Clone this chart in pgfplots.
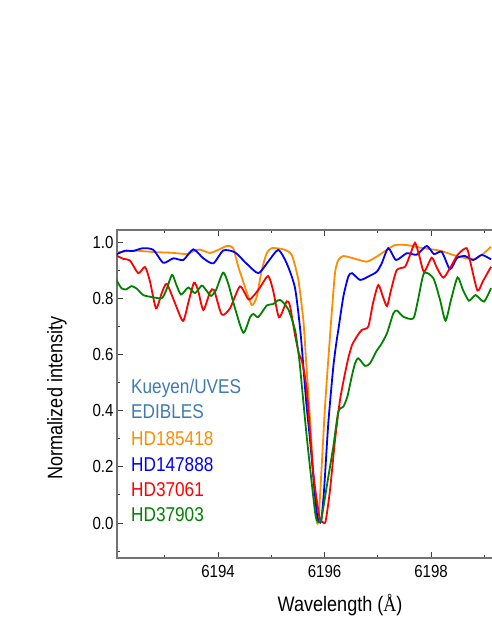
\documentclass[border=0pt]{standalone}
\usepackage{fontspec}
\setmainfont{Liberation Sans}[FakeStretch=0.86]
\newfontfamily\aafont{Liberation Serif}[FakeStretch=0.86]
\usepackage{xcolor}
\usepackage{pgfplots}
\pgfplotsset{compat=1.18}

\definecolor{steel}{RGB}{62,124,178}
\definecolor{corange}{RGB}{255,140,0}
\definecolor{cblue}{RGB}{0,0,255}
\definecolor{cred}{RGB}{255,0,0}
\definecolor{cgreen}{RGB}{0,130,0}

\begin{document}
\begin{tikzpicture}
\useasboundingbox (-117pt,-77pt) rectangle (374pt,558pt);
\begin{axis}[
  scale only axis,
  width=380pt, height=328pt,
  xmin=6192.103, xmax=6199.239,
  ymin=-0.1246, ymax=1.0427,
  xtick={6194,6196,6198},
  minor xtick={6193,6195,6197,6199},
  ytick={0,0.2,0.4,0.6,0.8,1.0},
  minor ytick={-0.1,0.1,0.3,0.5,0.7,0.9},
  ytick pos=left,
  tick align=inside,
  major tick length=6pt, minor tick length=3.5pt,
  tick style={line width=0.9pt, black!75},
  axis line style={line width=1.1pt, black!55},
  scaled x ticks=false,
  /pgf/number format/assume math mode=true,
  xticklabel style={/pgf/number format/1000 sep={}, yshift=-3.5pt},
  yticklabel style={/pgf/number format/.cd, fixed, fixed zerofill, precision=1},
  ticklabel style={font=\fontsize{17.5}{19}\selectfont},
  xlabel={Wavelength ({\aafont Å})},
  ylabel={Normalized intensity},
  every axis x label/.style={at={(axis description cs:0.587,-0.1433)}, anchor=center,
    font=\fontsize{21}{24}\selectfont},
  every axis y label/.style={at={(axis description cs:-0.158,0.488)}, rotate=90, anchor=center,
    font=\fontsize{21}{24}\selectfont},
  every axis plot/.append style={line width=1.8pt, smooth, tension=0.4},
]
% HD185418
\addplot[corange] coordinates {
 (6192.066,0.962) (6192.441,0.969) (6192.817,0.964) (6193.099,0.962) (6193.286,0.959)
 (6193.418,0.957) (6193.549,0.968) (6193.662,0.973) (6193.850,0.961) (6194.038,0.975)
 (6194.169,0.986) (6194.282,0.979) (6194.381,0.912) (6194.507,0.840) (6194.633,0.776)
 (6194.727,0.805) (6194.821,0.900) (6194.915,0.960) (6195.008,0.978) (6195.226,0.974)
 (6195.384,0.954) (6195.508,0.865) (6195.602,0.722) (6195.653,0.580) (6195.728,0.367)
 (6195.784,0.189) (6195.840,0.020) (6195.880,0.002) (6195.920,0.110) (6196.009,0.414)
 (6196.084,0.616) (6196.135,0.747) (6196.197,0.890) (6196.259,0.936) (6196.353,0.950)
 (6196.541,0.942) (6196.792,0.930) (6196.980,0.948) (6197.168,0.972) (6197.324,0.989)
 (6197.544,0.989) (6197.855,0.978) (6198.169,0.969) (6198.483,0.950) (6198.794,0.938)
 (6198.952,0.954) (6199.127,0.983)};
% HD147888
\addplot[cblue] coordinates {
 (6192.066,0.954) (6192.254,0.969) (6192.404,0.968) (6192.592,0.978) (6192.785,0.972)
 (6192.973,0.926) (6193.161,0.942) (6193.348,0.936) (6193.536,0.974) (6193.724,0.942)
 (6193.912,0.924) (6194.100,0.970) (6194.319,0.963) (6194.526,0.925) (6194.757,0.889)
 (6194.945,0.931) (6195.132,0.972) (6195.290,0.924) (6195.446,0.836) (6195.553,0.670)
 (6195.653,0.438) (6195.728,0.295) (6195.853,0.040) (6195.900,0.004) (6195.940,0.010)
 (6195.991,0.117) (6196.071,0.355) (6196.165,0.556) (6196.229,0.651) (6196.259,0.687)
 (6196.353,0.805) (6196.447,0.877) (6196.516,0.889) (6196.667,0.865) (6196.822,0.877)
 (6196.980,0.894) (6197.074,0.924) (6197.198,0.978) (6197.343,0.936) (6197.544,0.960)
 (6197.731,0.955) (6197.919,0.986) (6198.056,0.957) (6198.201,0.965) (6198.357,0.903)
 (6198.488,0.943) (6198.638,0.950) (6198.794,0.936) (6198.952,0.954) (6199.127,0.938)};
% HD37061
\addplot[cred] coordinates {
 (6192.066,0.954) (6192.222,0.940) (6192.347,0.934) (6192.503,0.889) (6192.629,0.911)
 (6192.723,0.859) (6192.836,0.764) (6192.943,0.818) (6193.037,0.851) (6193.193,0.782)
 (6193.343,0.719) (6193.455,0.794) (6193.549,0.855) (6193.624,0.829) (6193.724,0.758)
 (6193.850,0.822) (6193.925,0.829) (6194.069,0.742) (6194.225,0.764) (6194.413,0.842)
 (6194.582,0.795) (6194.770,0.833) (6194.939,0.879) (6195.033,0.829) (6195.146,0.732)
 (6195.290,0.789) (6195.352,0.772) (6195.446,0.669) (6195.521,0.601) (6195.577,0.575)
 (6195.666,0.473) (6195.790,0.177) (6195.900,0.025) (6195.960,0.004) (6196.020,0.006)
 (6196.103,0.117) (6196.197,0.295) (6196.291,0.438) (6196.385,0.533) (6196.447,0.587)
 (6196.516,0.633) (6196.605,0.663) (6196.699,0.687) (6196.822,0.699) (6196.911,0.783)
 (6197.010,0.847) (6197.099,0.804) (6197.174,0.772) (6197.249,0.829) (6197.356,0.900)
 (6197.512,0.912) (6197.606,0.954) (6197.699,0.997) (6197.775,0.954) (6197.868,0.894)
 (6198.013,0.944) (6198.113,0.907) (6198.231,0.873) (6198.357,0.907) (6198.498,0.954)
 (6198.670,0.978) (6198.751,0.918) (6198.873,0.827) (6198.976,0.861) (6199.127,0.912)};
% HD37903
\addplot[cgreen] coordinates {
 (6192.066,0.877) (6192.122,0.854) (6192.192,0.835) (6192.272,0.831) (6192.379,0.843)
 (6192.479,0.833) (6192.597,0.811) (6192.761,0.804) (6192.943,0.800) (6193.023,0.826)
 (6193.136,0.883) (6193.211,0.851) (6193.305,0.813) (6193.442,0.838) (6193.568,0.818)
 (6193.694,0.845) (6193.775,0.829) (6193.869,0.808) (6193.962,0.829) (6194.094,0.891)
 (6194.188,0.854) (6194.319,0.764) (6194.475,0.677) (6194.601,0.732) (6194.663,0.744)
 (6194.757,0.733) (6194.915,0.774) (6195.033,0.779) (6195.164,0.794) (6195.320,0.760)
 (6195.446,0.687) (6195.502,0.616) (6195.540,0.556) (6195.666,0.307) (6195.822,0.040)
 (6195.880,0.004) (6195.940,0.015) (6196.041,0.129) (6196.165,0.272) (6196.259,0.396)
 (6196.353,0.414) (6196.428,0.449) (6196.511,0.521) (6196.573,0.568) (6196.635,0.586)
 (6196.761,0.559) (6196.854,0.568) (6196.967,0.609) (6197.074,0.639) (6197.174,0.676)
 (6197.292,0.746) (6197.361,0.756) (6197.480,0.734) (6197.668,0.728) (6197.756,0.794)
 (6197.868,0.889) (6198.043,0.871) (6198.169,0.794) (6198.272,0.720) (6198.375,0.794)
 (6198.498,0.874) (6198.601,0.829) (6198.713,0.791) (6198.836,0.811) (6198.995,0.788)
 (6199.127,0.836)};

\begin{scope}[every node/.style={anchor=base west, inner sep=0pt, font=\fontsize{20}{22}\selectfont}]
\node[text=steel]   at (rel axis cs:0.0368,0.500) {Kueyen/UVES};
\node[text=steel]   at (rel axis cs:0.0368,0.4238) {EDIBLES};
\node[text=corange] at (rel axis cs:0.0368,0.3445) {HD185418};
\node[text=cblue]   at (rel axis cs:0.0368,0.2652) {HD147888};
\node[text=cred]    at (rel axis cs:0.0368,0.186) {HD37061};
\node[text=cgreen]  at (rel axis cs:0.0368,0.1098) {HD37903};
\end{scope}
\end{axis}
\end{tikzpicture}
\end{document}
